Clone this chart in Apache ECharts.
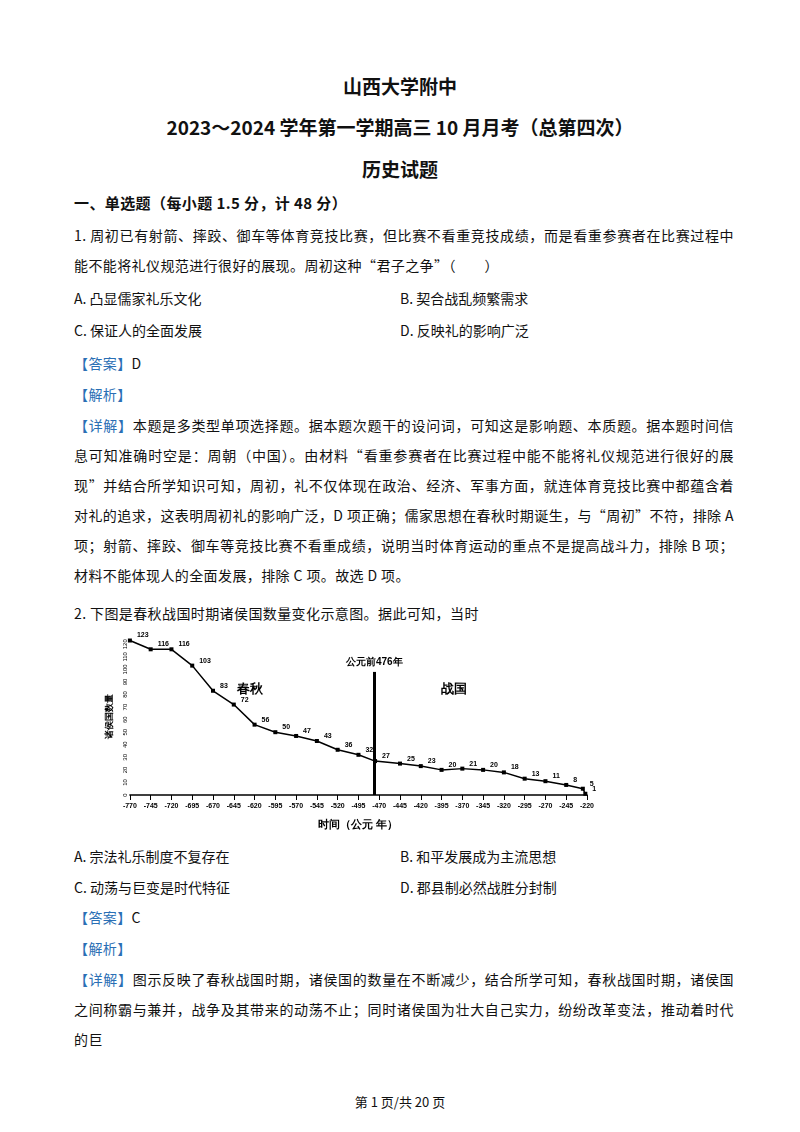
<!DOCTYPE html>
<html lang="zh">
<head>
<meta charset="UTF-8">
<title>历史试题</title>
<script src="https://cdn.jsdelivr.net/npm/echarts@6/dist/echarts.min.js"></script>
<style>
  body { margin:0; background:#fff; font-family:"Noto Sans CJK SC", serif; color:#111; font-size:14px; }
  .page { position:relative; width:800px; height:1132px; }
  .t { position:absolute; left:0; width:800px; text-align:center; font-weight:bold; font-size:19px; }
  .p { position:absolute; left:74px; width:660px; line-height:30px; text-align:justify; letter-spacing:0.4px; }
  .b { color:#2a6fb5; }
  #chart { position:absolute; left:97px; top:630px; width:500px; height:205px; }
  .opt { position:absolute; }
</style>
</head>
<body>
<div class="page">
  <div class="t" style="top:72px">山西大学附中</div>
  <div class="t" style="top:113px">2023～2024 学年第一学期高三 10 月月考（总第四次）</div>
  <div class="t" style="top:155px">历史试题</div>
  <div class="p" style="top:188px;font-weight:bold;font-size:15px">一、单选题（每小题 1.5 分，计 48 分）</div>
  <div class="p" style="top:220px">1. 周初已有射箭、摔跤、御车等体育竞技比赛，但比赛不看重竞技成绩，而是看重参赛者在比赛过程中能不能将礼仪规范进行很好的展现。周初这种“君子之争”（　　）</div>
  <div class="opt" style="left:74px;top:288px">A. 凸显儒家礼乐文化</div>
  <div class="opt" style="left:400px;top:288px">B. 契合战乱频繁需求</div>
  <div class="opt" style="left:74px;top:320px">C. 保证人的全面发展</div>
  <div class="opt" style="left:400px;top:320px">D. 反映礼的影响广泛</div>
  <div class="p" style="top:348px"><span class="b">【答案】</span>D</div>
  <div class="p" style="top:379px"><span class="b">【解析】</span></div>
  <div class="p" style="top:410px"><span class="b">【详解】</span>本题是多类型单项选择题。据本题次题干的设问词，可知这是影响题、本质题。据本题时间信息可知准确时空是：周朝（中国）。由材料“看重参赛者在比赛过程中能不能将礼仪规范进行很好的展现”并结合所学知识可知，周初，礼不仅体现在政治、经济、军事方面，就连体育竞技比赛中都蕴含着对礼的追求，这表明周初礼的影响广泛，D 项正确；儒家思想在春秋时期诞生，与“周初”不符，排除 A 项；射箭、摔跤、御车等竞技比赛不看重成绩，说明当时体育运动的重点不是提高战斗力，排除 B 项；材料不能体现人的全面发展，排除 C 项。故选 D 项。</div>
  <div class="p" style="top:598px">2. 下图是春秋战国时期诸侯国数量变化示意图。据此可知，当时</div>
  <div id="chart"></div>
  <div class="opt" style="left:74px;top:846px">A. 宗法礼乐制度不复存在</div>
  <div class="opt" style="left:400px;top:846px">B. 和平发展成为主流思想</div>
  <div class="opt" style="left:74px;top:877px">C. 动荡与巨变是时代特征</div>
  <div class="opt" style="left:400px;top:877px">D. 郡县制必然战胜分封制</div>
  <div class="p" style="top:902px"><span class="b">【答案】</span>C</div>
  <div class="p" style="top:933px"><span class="b">【解析】</span></div>
  <div class="p" style="top:964px"><span class="b">【详解】</span>图示反映了春秋战国时期，诸侯国的数量在不断减少，结合所学可知，春秋战国时期，诸侯国之间称霸与兼并，战争及其带来的动荡不止；同时诸侯国为壮大自己实力，纷纷改革变法，推动着时代的巨</div>
  <div class="t" style="top:1092px;font-weight:normal;font-size:13px">第 1 页/共 20 页</div>
</div>
<script>
var years = [-770,-745,-720,-695,-670,-645,-620,-595,-570,-545,-520,-495,-475,-445,-420,-395,-370,-345,-320,-295,-270,-245,-225,-222];
var counts = [123,116,116,103,83,72,56,50,47,43,36,32,27,25,23,20,21,20,18,13,11,8,5,1];
var eraNames = ['春秋', '战国'];
var eraPos = [[-625, 84], [-380, 84]];

var chart = echarts.init(document.getElementById('chart'));
chart.setOption({
  animation: false,
  grid: { left: 14, right: 10, top: 8, bottom: 38 },
  xAxis: {
    type: 'value', min: -770, max: -220, interval: 25,
    axisLine: { lineStyle: { color: '#000', width: 1.5 } },
    axisTick: { show: true, lineStyle: { color: '#000' } },
    axisLabel: { color: '#000', fontSize: 7, fontWeight: 'bold', showMinLabel: true, showMaxLabel: true },
    splitLine: { show: false },
    name: '时间（公元 年）', nameLocation: 'middle', nameGap: 24,
    nameTextStyle: { color: '#000', fontSize: 11, fontWeight: 'bold' }
  },
  yAxis: {
    type: 'value', min: 0, max: 125, interval: 10,
    axisLine: { show: false }, axisTick: { show: false }, splitLine: { show: false },
    axisLabel: { color: '#000', fontSize: 6, margin: 2, rotate: 90 },
    name: '诸侯国数量', nameLocation: 'middle', nameGap: 8,
    nameTextStyle: { color: '#000', fontSize: 9, fontWeight: 'bold' }
  },
  series: [{
    type: 'line',
    data: years.map(function (y, i) { return [y, counts[i]]; }),
    symbol: 'rect', symbolSize: 4,
    lineStyle: { color: '#000', width: 1.5 },
    itemStyle: { color: '#000' },
    label: { show: true, position: 'right', offset: [0, -5], fontSize: 7, fontWeight: 'bold', color: '#000' },
    markLine: {
      silent: true, symbol: 'none',
      lineStyle: { color: '#000', width: 3, type: 'solid' },
      label: { show: true, position: 'end', formatter: '公元前476年', fontSize: 10, fontWeight: 'bold', color: '#000' },
      data: [[{ coord: [-476, 0] }, { coord: [-476, 98] }]]
    },
    markPoint: {
      symbol: 'circle', symbolSize: 1,
      itemStyle: { color: 'rgba(0,0,0,0)' },
      label: { show: true, position: 'inside', fontSize: 13, fontWeight: 'bold', color: '#000' },
      data: eraNames.map(function (n, i) {
        return { coord: eraPos[i], value: n, label: { formatter: n } };
      })
    }
  }]
});
</script>
</body>
</html>
